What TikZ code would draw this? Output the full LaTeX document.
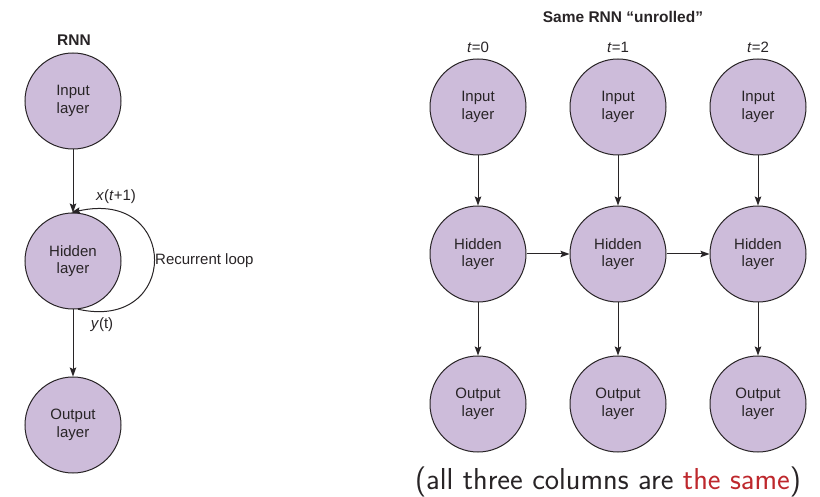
\documentclass[tikz,border=0pt]{standalone}
\usepackage{fontspec}
\setmainfont{Liberation Sans}
\usepackage{xcolor}
\usepackage{tikz}
\usetikzlibrary{arrows.meta,positioning}

\definecolor{layerfill}{RGB}{205,188,218}
\definecolor{linegray}{RGB}{40,36,38}
\definecolor{samered}{RGB}{190,40,45}

\begin{document}
\begin{tikzpicture}[
x=1pt,y=-1pt,
font=\fontsize{15}{17.5}\selectfont,
layer/.style={circle,draw=linegray,line width=1pt,fill=layerfill,minimum size=96pt,inner sep=0pt,align=center,text=linegray},
arrow/.style={-{Stealth[length=9pt,width=6.5pt,inset=1.5pt]},line width=1pt,draw=linegray},
lbl/.style={text=linegray,inner sep=1pt}
]
\useasboundingbox (0,0) rectangle (820,497);

% folded network
\node[layer] (in) at (73,101) {Input\\layer};
\node[layer,below=63pt of in] (hid) {Hidden\\layer};
\node[layer,below=67pt of hid] (out) {Output\\layer};
\node[lbl,font=\fontsize{15.5}{17}\selectfont\bfseries] (rnn) at (74,40) {RNN};
\draw[arrow] (in) -- (hid);
\draw[arrow] (hid) -- (out);
\draw[arrow] (hid.-84) .. controls (180,332) and (180,188) .. (hid.92);
\node[lbl] (xlab) at (116,197) {\textit{x}(\textit{t}+1)};
\node[lbl] (ylab) at (102,325) {\textit{y}(t)};
\node[lbl,anchor=west] (loop) at (154,261) {Recurrent loop};

% unrolled network
\node[lbl,font=\fontsize{15.5}{17}\selectfont\bfseries] (unr) at (623,17) {Same RNN \textquotedblleft unrolled\textquotedblright};
\foreach \c/\x in {0/478,1/618,2/758}{
  \node[layer] (in\c) at (\x,107) {Input\\layer};
  \node[layer,below=50pt of in\c] (hid\c) {Hidden\\layer};
  \node[layer,below=53pt of hid\c] (out\c) {Output\\layer};
  \node[lbl] (t\c) at (\x,47) {\textit{t}=\c};
  \draw[arrow] (in\c) -- (hid\c);
  \draw[arrow] (hid\c) -- (out\c);
}
\draw[arrow] (hid0) -- (hid1);
\draw[arrow] (hid1) -- (hid2);

\node[lbl,font=\sffamily\fontsize{30.3}{34}\selectfont] (same) at (608,482) {(all three columns are \textcolor{samered}{the same})};
\end{tikzpicture}
\end{document}
